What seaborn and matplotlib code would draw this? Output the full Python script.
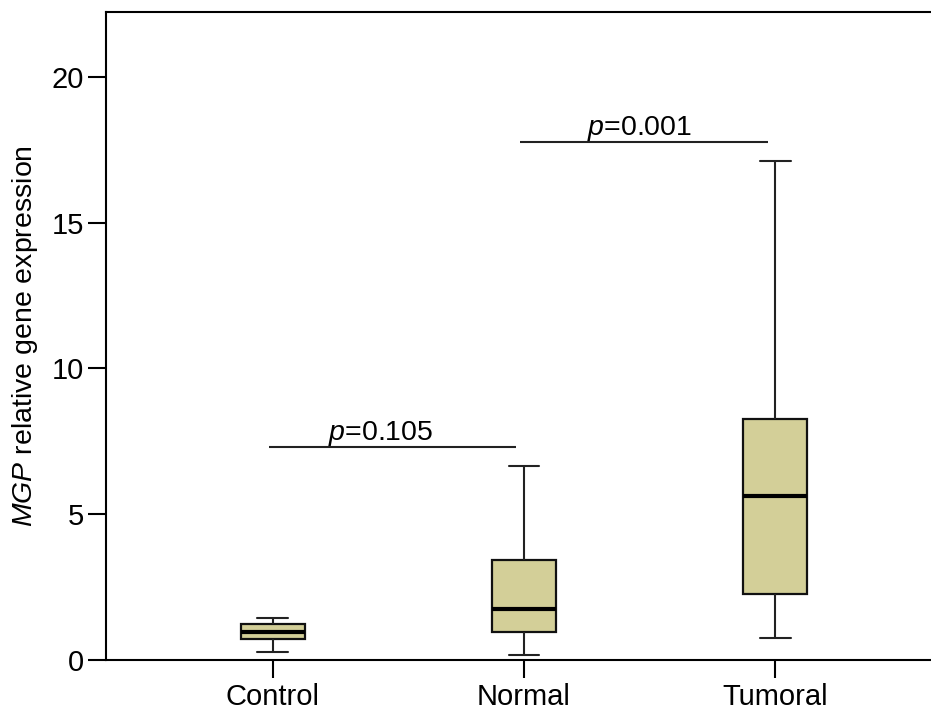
import numpy as np
import pandas as pd
import matplotlib
matplotlib.use("Agg")
import matplotlib.pyplot as plt
import seaborn as sns

# Five-number summaries per group: lower whisker, Q1, median, Q3, upper whisker
groups = ["Control", "Normal", "Tumoral"]
control_summary = [0.26, 0.72, 0.96, 1.21, 1.44]
normal_summary = [0.15, 0.95, 1.75, 3.41, 6.66]
tumoral_summary = [0.74, 2.26, 5.62, 8.25, 17.13]

# Significance brackets: (left group, right group, height, label)
bracket_pairs = [(0, 1), (1, 2)]
bracket_heights = [7.30, 17.78]
bracket_labels = ["0.105", "0.001"]

yticks = [0, 5, 10, 15, 20]

sns.set_theme(style="white")
plt.rcParams["font.family"] = ["Liberation Sans", "DejaVu Sans"]
plt.rcParams["mathtext.fontset"] = "custom"
plt.rcParams["mathtext.rm"] = "Liberation Sans"
plt.rcParams["mathtext.it"] = "Liberation Sans:italic"
plt.rcParams["text.color"] = "black"
plt.rcParams["axes.labelcolor"] = "black"

summaries = [control_summary, normal_summary, tumoral_summary]
df = pd.DataFrame({
    "group": np.repeat(groups, 5),
    "value": np.concatenate(summaries),
})

fig = plt.figure(figsize=(9.31, 7.11), dpi=100)
ax = fig.add_axes([0.1139, 0.0724, 0.8861, 0.9103])

# With five values per group the quartiles fall exactly on the summary points
sns.boxplot(
    data=df, x="group", y="value", order=groups, ax=ax,
    whis=np.inf, width=0.254, color="#D3CF98", saturation=1,
    linewidth=1.5, linecolor="#111111",
    boxprops=dict(edgecolor="#111111", linewidth=1.6),
    whiskerprops=dict(color="#222222", linewidth=1.5),
    capprops=dict(color="#222222", linewidth=1.5),
    medianprops=dict(color="black", linewidth=3.0),
    showfliers=False,
)
# caps half the box width
for line in ax.lines:
    xd = line.get_xdata()
    yd = line.get_ydata()
    if len(xd) == 2 and yd[0] == yd[1] and abs(xd[1] - xd[0]) < 0.2:
        c = (xd[0] + xd[1]) / 2
        line.set_xdata([c - 0.061, c + 0.061])

ax.set_xlim(-0.663, 2.62)
ax.set_ylim(0, 22.22)
ax.set_yticks(yticks)
ax.set_yticklabels([str(t) for t in yticks])

for (a, b), h, lab in zip(bracket_pairs, bracket_heights, bracket_labels):
    ax.plot([a - 0.015, b - 0.03], [h, h], color="#222222", lw=1.5, solid_capstyle="butt")
    xm = (a + b) / 2 - 0.07 + 0.03 * a
    ax.text(xm, h + 0.23, r"$\it{p}$" + "=" + lab, ha="center", va="baseline",
            fontsize=20.5, color="black")

ax.set_xlabel("")
ax.set_ylabel(r"$\it{MGP}$ relative gene expression", fontsize=20.5, labelpad=8,
              color="black")

for side in ["left", "top", "bottom"]:
    ax.spines[side].set_color("black")
    ax.spines[side].set_linewidth(1.5)
ax.spines["right"].set_visible(False)

ax.tick_params(axis="both", which="major", direction="out", length=13, width=1.5,
               color="black", labelsize=21, labelcolor="black",
               left=True, bottom=True)
ax.tick_params(axis="y", pad=3)
ax.tick_params(axis="x", pad=4)

fig.savefig("out.png", dpi=100)
